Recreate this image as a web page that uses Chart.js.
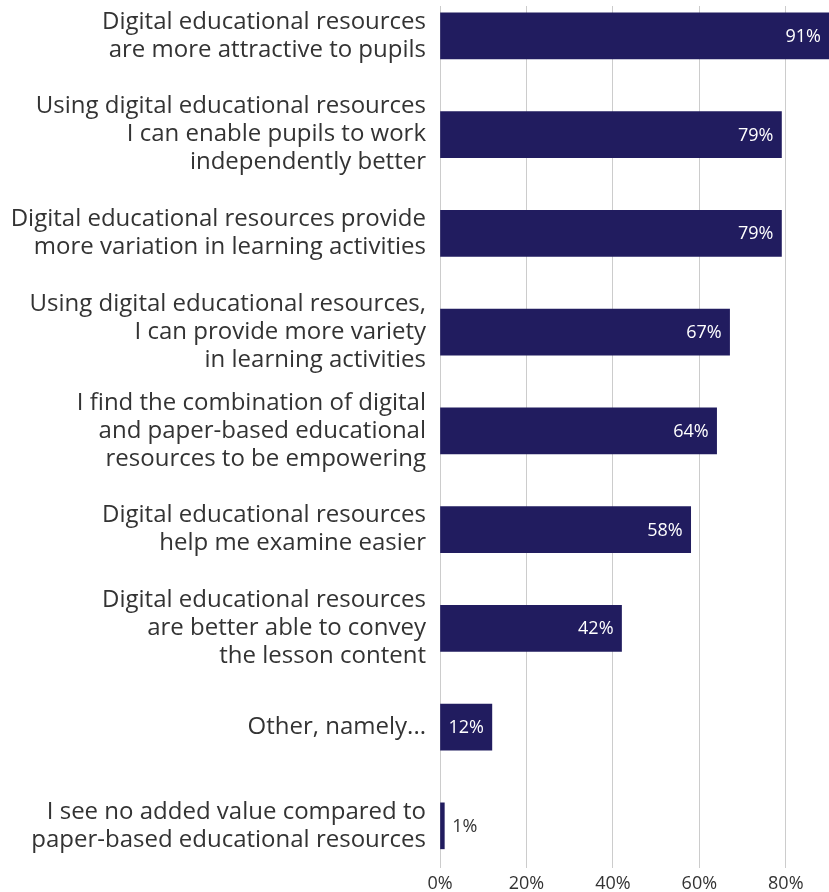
<!DOCTYPE html>
<html lang="en">
<head>
    <meta charset="UTF-8">
    <meta name="viewport" content="width=device-width, initial-scale=1.0">
    <title>Added value of digital educational resources</title>
    <script src="https://cdn.jsdelivr.net/npm/chart.js"></script>
    <style>
        html, body { margin: 0; padding: 0; background: #fff; }
        #wrap { position: relative; width: 829px; height: 892px; }
    </style>
</head>
<body>
    <div id="wrap"><canvas id="valueChart"></canvas></div>
    <script>
        // statements, one entry per bar, already split into display lines
        const categories = [
            ['Digital educational resources', 'are more attractive to pupils'],
            ['Using digital educational resources', 'I can enable pupils to work', 'independently better'],
            ['Digital educational resources provide', 'more variation in learning activities'],
            ['Using digital educational resources,', 'I can provide more variety', 'in learning activities'],
            ['I find the combination of digital', 'and paper-based educational', 'resources to be empowering'],
            ['Digital educational resources', 'help me examine easier'],
            ['Digital educational resources', 'are better able to convey', 'the lesson content'],
            ['Other, namely...'],
            ['I see no added value compared to', 'paper-based educational resources']
        ];
        const percentages = [91, 79, 79, 67, 64, 58, 42, 12, 1];
        const xTicks = [0, 20, 40, 60, 80];

        const barColor = '#211c5f';
        const textColor = '#333333';

        // writes the percentage at the end of each bar, inside when it fits
        const valueLabels = {
            id: 'valueLabels',
            afterDatasetsDraw(chart) {
                const ctx = chart.ctx;
                const area = chart.chartArea;
                const meta = chart.getDatasetMeta(0);
                ctx.save();
                ctx.font = '18px "Open Sans"';
                ctx.textBaseline = 'middle';
                meta.data.forEach((bar, i) => {
                    const text = percentages[i] + '%';
                    const end = Math.min(bar.x, area.right);
                    const w = ctx.measureText(text).width;
                    if (end - bar.base > w + 14) {
                        ctx.fillStyle = '#ffffff';
                        ctx.textAlign = 'right';
                        ctx.fillText(text, end - 8, bar.y + 1);
                    } else {
                        ctx.fillStyle = textColor;
                        ctx.textAlign = 'left';
                        ctx.fillText(text, end + 8, bar.y + 1);
                    }
                });
                ctx.restore();
            }
        };

        // drop the extra room chart.js reserves for the outer tick labels
        function noEdgePadding(s) {
            s.paddingTop = 0;
            s.paddingBottom = 0;
            s.paddingLeft = 0;
            s.paddingRight = 0;
        }

        new Chart(document.getElementById('valueChart'), {
            type: 'bar',
            data: {
                datasets: [{
                    data: percentages.map((v, i) => ({ x: v, y: i })),
                    backgroundColor: barColor,
                    borderWidth: 0,
                    barThickness: 46
                }]
            },
            options: {
                indexAxis: 'y',
                responsive: true,
                maintainAspectRatio: false,
                animation: false,
                layout: { padding: { top: 6, right: 0, bottom: 0, left: 0 } },
                plugins: {
                    legend: { display: false },
                    tooltip: { enabled: false }
                },
                scales: {
                    x: {
                        type: 'linear',
                        min: 0,
                        max: 90,
                        afterBuildTicks: s => { s.ticks = xTicks.map(v => ({ value: v })); },
                        afterFit: s => { noEdgePadding(s); s.height = 24; },
                        border: { display: false },
                        grid: { color: '#cccccc', lineWidth: 1, drawTicks: false },
                        ticks: {
                            padding: 5,
                            color: textColor,
                            font: { family: 'Open Sans', size: 18 },
                            callback: v => v + '%'
                        }
                    },
                    y: {
                        type: 'linear',
                        reverse: true,
                        offset: false,
                        min: -0.302,
                        max: 8.427,
                        afterBuildTicks: s => { s.ticks = categories.map((_, i) => ({ value: i })); },
                        afterFit: s => { noEdgePadding(s); s.width = 440; },
                        border: { display: false },
                        grid: { display: false, drawTicks: false, offset: false },
                        ticks: {
                            padding: 14,
                            color: textColor,
                            font: { family: 'Open Sans', size: 24, lineHeight: 1.17 },
                            callback: v => categories[v]
                        }
                    }
                }
            },
            plugins: [valueLabels]
        });
    </script>
</body>
</html>
